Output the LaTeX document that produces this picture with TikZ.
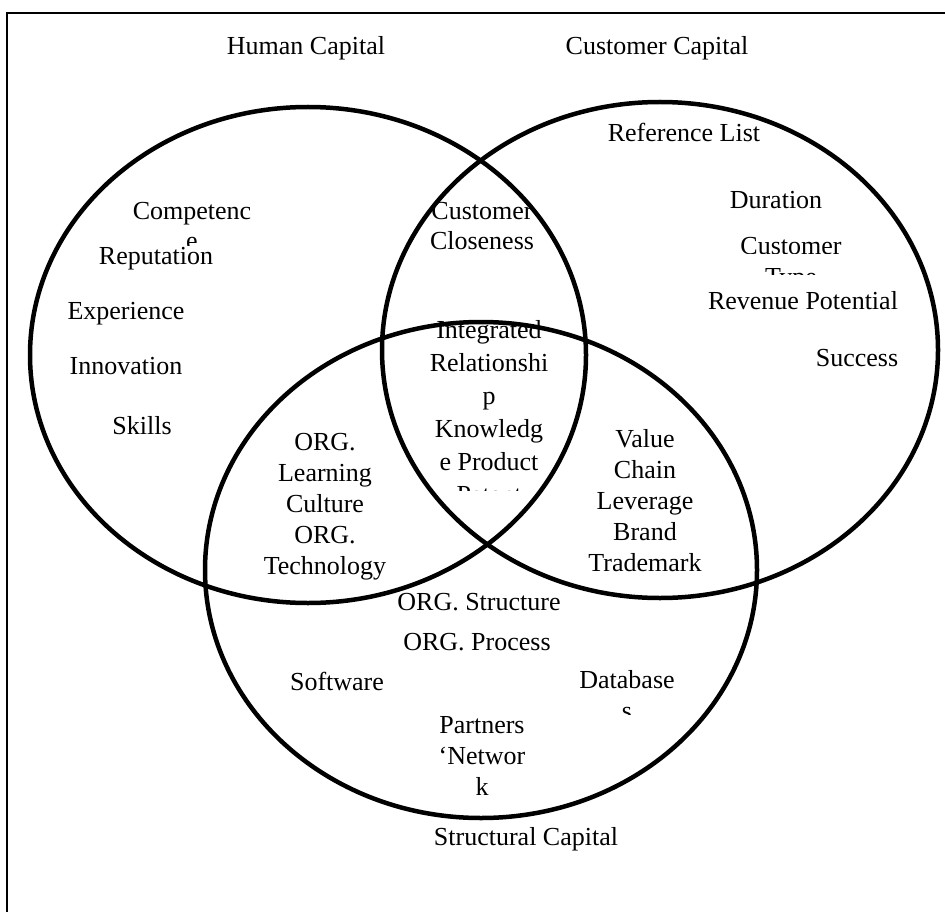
\documentclass[tikz,border=0pt]{standalone}
\usepackage{fontspec}
\setmainfont{Liberation Serif}

\begin{document}
\begin{tikzpicture}[x=1pt, y=-1pt,
   txt/.style={anchor=base, align=center, inner sep=0pt, font=\fontsize{26}{31}\selectfont},
   ring/.style={line width=4.5pt}]
   \useasboundingbox (0,0) rectangle (945,912);
   \draw[line width=1.5pt] (945,13) -| (7,912);

   \node (hc) at (306,55) [txt] {Human Capital};
   \node (cc) at (657,55) [txt] {Customer Capital};
   \node (sc) at (526,845) [txt] {Structural Capital};

   % human capital (base = last line)
   \begin{scope}
   \clip (100,190) rectangle (290,245);
   \node (comp) at (192,250) [txt] {Competenc\\e};
   \end{scope}
   \node (rep) at (156,265) [txt] {Reputation};
   \node (exp) at (126,319) [txt] {Experience};
   \node (inno) at (126,374) [txt] {Innovation};
   \node (skill) at (142,434) [txt] {Skills};

   % customer capital
   \node (ref) at (684,142) [txt] {Reference List};
   \node (dur) at (776,209) [txt] {Duration};
   \begin{scope}
   \clip (720,225) rectangle (870,253) (720,268) rectangle (870,274);
   \node (ctype) at (791,285) [txt] {Customer\\Type};
   \end{scope}
   \node (rev) at (803,309) [txt] {Revenue Potential};
   \node (succ) at (857,366) [txt] {Success};

   % overlaps
   \node (close) at (482,250) [txt] {Customer\\Closeness};
   \begin{scope}
   \clip (400,300) rectangle (580,490);
   \node (core) at (489,503) [txt, font=\fontsize{26}{33}\selectfont] {Integrated\\Relationshi\\p\\Knowledg\\e Product\\Patent};
   \end{scope}
   \node (learn) at (325,574) [txt] {ORG.\\Learning\\Culture\\ORG.\\Technology};
   \node (chain) at (645,571) [txt] {Value\\Chain\\Leverage\\Brand\\Trademark};

   % structural capital
   \node (struct) at (479,610) [txt] {ORG. Structure};
   \node (proc) at (477,650) [txt] {ORG. Process};
   \node (soft) at (337,690) [txt] {Software};
   \begin{scope}
   \clip (560,650) rectangle (700,714);
   \node (db) at (627,719) [txt] {Database\\s};
   \end{scope}
   \node (net) at (482,795) [txt] {Partners\\`Networ\\k};

   \draw[ring] (308,355) ellipse [x radius=278pt, y radius=248pt];
   \draw[ring] (660,350) ellipse [x radius=278pt, y radius=248pt];
   \draw[ring] (481,570) ellipse [x radius=276pt, y radius=248pt];
\end{tikzpicture}
\end{document}
